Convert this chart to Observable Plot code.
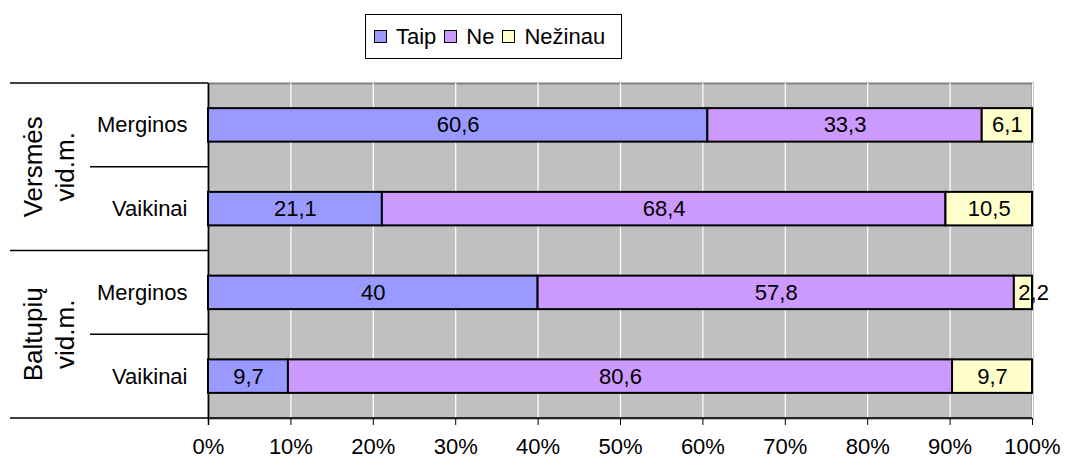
<!DOCTYPE html>
<html>
<head>
<meta charset="utf-8">
<script src="https://cdn.jsdelivr.net/npm/d3@7"></script>
<script src="https://cdn.jsdelivr.net/npm/@observablehq/plot@0.6"></script>
<style>
  body { margin: 0; background: #fff; font-family: "Liberation Sans", Arial, sans-serif; }
  #wrap { position: relative; width: 1065px; height: 466px; }
  #legend { position: absolute; left: 365px; top: 14px; width: 257px; height: 45px; border: 1px solid #000;
            box-sizing: border-box; display: flex; align-items: center; font-size: 22px; padding-left: 8px; color: #000; }
  #legend .item { display: flex; align-items: center; margin-right: 8px; }
  #legend .sw { width: 11px; height: 11px; border: 1px solid #000; margin-right: 9px; }
</style>
</head>
<body>
<div id="wrap">
  <div id="chart"></div>
  <div id="legend"></div>
</div>
<script>
// ---- data ----
const groups = ["Versmės\nvid.m.", "Baltupių\nvid.m."];
const rowGroup = [0, 0, 1, 1];
const categories = ["Merginos", "Vaikinai", "Merginos", "Vaikinai"];
const answers = ["Taip", "Ne", "Nežinau"];
const taip = [60.6, 21.1, 40, 9.7];
const ne = [33.3, 68.4, 57.8, 80.6];
const nezinau = [6.1, 10.5, 2.2, 9.7];
const colors = ["#9999FF", "#CC99FF", "#FFFFCC"];
const xTicks = [0, 0.1, 0.2, 0.3, 0.4, 0.5, 0.6, 0.7, 0.8, 0.9, 1];

const rows = categories.map((c, i) => "r" + i);
const series = [taip, ne, nezinau];
const table = [];
rows.forEach((r, i) => {
  let s = 0;
  answers.forEach((a, j) => {
    const v = series[j][i];
    table.push({ row: r, answer: a, value: v, start: s / 100, end: (s + v) / 100 });
    s += v;
  });
});
const fmt = v => String(v).replace(".", ",");
const FONT = '"Liberation Sans", Arial, sans-serif';

const plot = Plot.plot({
  width: 1065, height: 466,
  marginLeft: 208, marginRight: 33, marginTop: 83, marginBottom: 48,
  style: { fontFamily: FONT, fontSize: "22px", background: "white", color: "black", overflow: "visible" },
  x: { domain: [0, 1], label: null },
  y: { domain: rows, paddingInner: 0.6, paddingOuter: 0.3, round: false, label: null },
  color: { domain: answers, range: colors },
  marks: [
    Plot.frame({ fill: "#C0C0C0", stroke: "#808080", strokeWidth: 2 }),
    Plot.gridX(xTicks, { stroke: "white", strokeOpacity: 1, strokeWidth: 1.2 }),
    Plot.ruleX([0], { stroke: "black", strokeWidth: 1.5, insetBottom: -7 }),
    Plot.barX(table, { x1: "start", x2: "end", y: "row", fill: "answer", stroke: "black", strokeWidth: 2 }),
    Plot.text(table.filter(d => d.value >= 4), {
      x: d => (d.start + d.end) / 2, y: "row", text: d => fmt(d.value), fill: "black", fontSize: 22
    }),
    Plot.text(table.filter(d => d.value < 4), {
      x: "start", y: "row", text: d => fmt(d.value), fill: "black", fontSize: 22, textAnchor: "start", dx: 4
    }),
    Plot.axisX({ ticks: xTicks, tickFormat: d => Math.round(d * 100) + "%", tickSize: 7, tickPadding: 13, fontSize: 22, label: null }),
    Plot.axisY({ tickSize: 0, tickPadding: 21, fontSize: 22, tickFormat: r => categories[rows.indexOf(r)], label: null })
  ]
});
document.getElementById("chart").appendChild(plot);

// ---- left table lines & group labels drawn from the library's scales ----
const ys = plot.scale("y");
const xs = plot.scale("x");
const svg = d3.select(plot);
const xa = xs.apply(0), xb = xs.apply(1);
const half = (ys.step - ys.bandwidth) / 2;
const rowTop = r => ys.apply(r) - half;
const rowBottom = r => ys.apply(r) + ys.bandwidth + half;
const g = svg.append("g").attr("stroke", "black").attr("stroke-width", 1.5);
rows.forEach((r, i) => {
  const newGroup = i === 0 || rowGroup[i] !== rowGroup[i - 1];
  g.append("line").attr("x1", xa - (newGroup ? 198 : 118)).attr("x2", xa)
    .attr("y1", rowTop(r)).attr("y2", rowTop(r));
});
const lastRow = rows[rows.length - 1];
g.append("line").attr("x1", xa - 198).attr("x2", xb).attr("y1", rowBottom(lastRow)).attr("y2", rowBottom(lastRow));

groups.forEach((name, gi) => {
  const rs = rows.filter((r, i) => rowGroup[i] === gi);
  const cy = (rowTop(rs[0]) + rowBottom(rs[rs.length - 1])) / 2;
  const lines = name.split("\n");
  const t = svg.append("text")
    .attr("transform", `translate(0,${cy}) rotate(-90)`)
    .attr("text-anchor", "middle")
    .attr("font-family", FONT)
    .attr("font-size", 26)
    .attr("fill", "black");
  const base = [42, 74];
  lines.forEach((ln, k) => t.append("tspan").attr("x", 0).attr("y", base[k]).text(ln));
});

// ---- legend ----
const leg = d3.select("#legend");
answers.forEach((a, i) => {
  const it = leg.append("div").attr("class", "item");
  it.append("div").attr("class", "sw").style("background", colors[i]);
  it.append("span").text(a);
});
</script>
</body>
</html>
